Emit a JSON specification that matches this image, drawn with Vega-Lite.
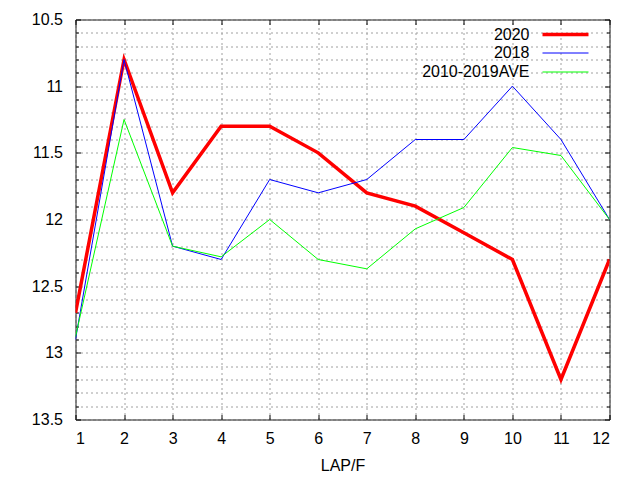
{
  "$schema": "https://vega.github.io/schema/vega-lite/v6.json",
  "autosize": {"type": "none"},
  "width": 534,
  "height": 400,
  "padding": {"left": 75.5, "top": 19.5, "right": 30.5, "bottom": 60.5},
  "background": "white",
  "config": {
    "view": {"stroke": "#000000", "strokeWidth": 1},
    "font": "Liberation Sans",
    "axis": {
      "domain": false,
      "tickColor": "#000000",
      "labelColor": "#000000",
      "labelFont": "Liberation Sans",
      "labelFontSize": 16,
      "titleFont": "Liberation Sans",
      "titleFontSize": 16,
      "titleFontWeight": "normal",
      "titleColor": "#000000"
    }
  },
  "data": {
    "values": [
      {"lap": 1, "series": "2020", "time": 12.7},
      {"lap": 2, "series": "2020", "time": 10.8},
      {"lap": 3, "series": "2020", "time": 11.8},
      {"lap": 4, "series": "2020", "time": 11.3},
      {"lap": 5, "series": "2020", "time": 11.3},
      {"lap": 6, "series": "2020", "time": 11.5},
      {"lap": 7, "series": "2020", "time": 11.8},
      {"lap": 8, "series": "2020", "time": 11.9},
      {"lap": 9, "series": "2020", "time": 12.1},
      {"lap": 10, "series": "2020", "time": 12.3},
      {"lap": 11, "series": "2020", "time": 13.2},
      {"lap": 12, "series": "2020", "time": 12.3},
      {"lap": 1, "series": "2018", "time": 12.9},
      {"lap": 2, "series": "2018", "time": 10.8},
      {"lap": 3, "series": "2018", "time": 12.2},
      {"lap": 4, "series": "2018", "time": 12.3},
      {"lap": 5, "series": "2018", "time": 11.7},
      {"lap": 6, "series": "2018", "time": 11.8},
      {"lap": 7, "series": "2018", "time": 11.7},
      {"lap": 8, "series": "2018", "time": 11.4},
      {"lap": 9, "series": "2018", "time": 11.4},
      {"lap": 10, "series": "2018", "time": 11.0},
      {"lap": 11, "series": "2018", "time": 11.4},
      {"lap": 12, "series": "2018", "time": 12.0},
      {"lap": 1, "series": "2010-2019AVE", "time": 12.88},
      {"lap": 2, "series": "2010-2019AVE", "time": 11.25},
      {"lap": 3, "series": "2010-2019AVE", "time": 12.2},
      {"lap": 4, "series": "2010-2019AVE", "time": 12.28},
      {"lap": 5, "series": "2010-2019AVE", "time": 12.0},
      {"lap": 6, "series": "2010-2019AVE", "time": 12.3},
      {"lap": 7, "series": "2010-2019AVE", "time": 12.37},
      {"lap": 8, "series": "2010-2019AVE", "time": 12.07},
      {"lap": 9, "series": "2010-2019AVE", "time": 11.91},
      {"lap": 10, "series": "2010-2019AVE", "time": 11.46},
      {"lap": 11, "series": "2010-2019AVE", "time": 11.52},
      {"lap": 12, "series": "2010-2019AVE", "time": 12.0}
    ]
  },
  "resolve": {"axis": {"x": "independent", "y": "independent"}},
  "layer": [
    {
      "mark": {"type": "line", "clip": true},
      "encoding": {
        "x": {
          "field": "lap",
          "type": "quantitative",
          "scale": {"domain": [1, 12], "nice": false, "zero": false},
          "axis": {
            "orient": "bottom",
            "values": [1, 2, 3, 4, 5, 6, 7, 8, 9, 10, 11, 12],
            "format": "d",
            "grid": true,
            "gridColor": "#a0a0a0",
            "gridDash": [2, 3],
            "gridWidth": 1,
            "gridOpacity": 1,
            "tickSize": -5,
            "labelPadding": 16,
            "title": "LAP/F",
            "titlePadding": 11
          }
        },
        "y": {
          "field": "time",
          "type": "quantitative",
          "scale": {"domain": [10.5, 13.5], "reverse": true, "nice": false, "zero": false},
          "axis": {
            "orient": "left",
            "values": [10.5, 10.6, 10.7, 10.8, 10.9, 11, 11.1, 11.2, 11.3, 11.4, 11.5, 11.6, 11.7, 11.8, 11.9, 12, 12.1, 12.2, 12.3, 12.4, 12.5, 12.6, 12.7, 12.8, 12.9, 13, 13.1, 13.2, 13.3, 13.4, 13.5],
            "labelExpr": "round(datum.value*10)%5==0 ? format(datum.value, '~g') : ''",
            "grid": true,
            "gridColor": "#a0a0a0",
            "gridDash": [2, 3],
            "gridWidth": 1,
            "gridOpacity": 1,
            "tickSize": {"condition": {"test": "round(datum.value*10)%5==0", "value": -5}, "value": -3},
            "labelPadding": 18,
            "title": null
          }
        },
        "color": {
          "field": "series",
          "type": "nominal",
          "sort": null,
          "scale": {"domain": ["2020", "2018", "2010-2019AVE"], "range": ["#ff0000", "#0000ff", "#00ff00"]},
          "legend": {
            "title": null,
            "orient": "none",
            "legendX": 479,
            "legendY": 4,
            "padding": 0,
            "symbolType": "M-2.556,0H2.556",
            "symbolSize": 324,
            "labelAlign": "right",
            "labelOffset": -47,
            "labelFont": "Liberation Sans",
            "labelFontSize": 16,
            "labelColor": "#000000",
            "rowPadding": 1
          }
        },
        "strokeWidth": {
          "field": "series",
          "type": "nominal",
          "sort": null,
          "scale": {"type": "ordinal", "domain": ["2020", "2018", "2010-2019AVE"], "range": [3.5, 1, 1]},
          "legend": {
            "title": null,
            "orient": "none",
            "legendX": 479,
            "legendY": 4,
            "padding": 0,
            "symbolType": "M-2.556,0H2.556",
            "symbolSize": 324,
            "labelAlign": "right",
            "labelOffset": -47,
            "labelFont": "Liberation Sans",
            "labelFontSize": 16,
            "labelColor": "#000000",
            "rowPadding": 1
          }
        }
      }
    },
    {
      "mark": {"type": "point", "opacity": 0},
      "encoding": {
        "x": {
          "field": "lap",
          "type": "quantitative",
          "axis": {
            "orient": "top",
            "values": [1, 2, 3, 4, 5, 6, 7, 8, 9, 10, 11, 12],
            "labels": false,
            "grid": false,
            "tickSize": -5,
            "title": null
          }
        },
        "y": {
          "field": "time",
          "type": "quantitative",
          "axis": {
            "orient": "right",
            "values": [10.5, 10.6, 10.7, 10.8, 10.9, 11, 11.1, 11.2, 11.3, 11.4, 11.5, 11.6, 11.7, 11.8, 11.9, 12, 12.1, 12.2, 12.3, 12.4, 12.5, 12.6, 12.7, 12.8, 12.9, 13, 13.1, 13.2, 13.3, 13.4, 13.5],
            "labels": false,
            "grid": false,
            "tickSize": {"condition": {"test": "round(datum.value*10)%5==0", "value": -5}, "value": -3},
            "title": null
          }
        }
      }
    }
  ]
}
